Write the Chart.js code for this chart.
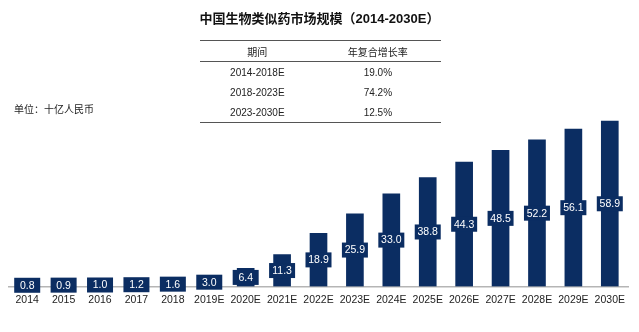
<!DOCTYPE html>
<html>
<head>
<meta charset="utf-8">
<script src="https://cdn.jsdelivr.net/npm/chart.js@4.4.0/dist/chart.umd.min.js"></script>
<style>
  body { margin: 0; background: #fff; font-family: "Liberation Sans", "Noto Sans CJK SC", sans-serif; }
  #wrap { position: relative; width: 639px; height: 332px; }
  #title { position: absolute; left: 0; width: 639px; top: 8px; text-align: center; font-size: 13px; font-weight: bold; color: #111; }
  #unit { position: absolute; left: 14px; top: 101px; font-size: 10px; color: #222; }
  table { position: absolute; left: 200px; top: 40px; width: 241px; border-collapse: collapse; font-size: 10px; color: #222; }
  table th, table td { font-weight: normal; text-align: center; height: 20px; padding: 0; }
  table th { border-top: 1.5px solid #555; border-bottom: 1.5px solid #555; }
  table tr:last-child td { border-bottom: 1.5px solid #555; }
  canvas { position: absolute; left: 0; top: 0; }
</style>
</head>
<body>
<div id="wrap">
  <canvas id="chart" width="639" height="332"></canvas>
  <div id="title">中国生物类似药市场规模（2014-2030E）</div>
  <div id="unit">单位：十亿人民币</div>
  <table id="cagr"></table>
</div>
<script>
// data
const years = ["2014", "2015", "2016", "2017", "2018", "2019E", "2020E", "2021E", "2022E",
    "2023E", "2024E", "2025E", "2026E", "2027E", "2028E", "2029E", "2030E"];
const marketSize = [0.8, 0.9, 1.0, 1.2, 1.6, 3.0, 6.4, 11.3, 18.9, 25.9, 33.0, 38.8, 44.3, 48.5, 52.2, 56.1, 58.9];
const periods = ["2014-2018E", "2018-2023E", "2023-2030E"];
const cagr = ["19.0%", "74.2%", "12.5%"];

const navy = "#0b2d62";

// CAGR table
let html = "<tr><th>期间</th><th>年复合增长率</th></tr>";
for (let i = 0; i < periods.length; i++) {
    html += "<tr><td>" + periods[i] + "</td><td>" + cagr[i] + "</td></tr>";
}
document.getElementById("cagr").innerHTML = html;

// value boxes in the middle of each bar
const boxLabels = {
    id: "boxLabels",
    afterDatasetsDraw(chart) {
        const ctx = chart.ctx;
        const meta = chart.getDatasetMeta(0);
        ctx.save();
        ctx.font = "10.5px 'Liberation Sans', sans-serif";
        ctx.textAlign = "center";
        ctx.textBaseline = "middle";
        meta.data.forEach((bar, i) => {
            const txt = marketSize[i].toFixed(1);
            const cy = (bar.y + bar.base) / 2;
            const w = 26, h = 15;
            ctx.fillStyle = navy;
            ctx.fillRect(bar.x - w / 2, cy - h / 2, w, h);
            ctx.fillStyle = "#ffffff";
            ctx.fillText(txt, bar.x, cy + 0.5);
        });
        ctx.restore();
    }
};

new Chart(document.getElementById("chart"), {
    type: "bar",
    data: {
        labels: years,
        datasets: [{
            data: marketSize,
            backgroundColor: navy,
            barThickness: 17
        }]
    },
    options: {
        responsive: false,
        animation: false,
        layout: { padding: { left: 9, right: 11, top: 90, bottom: 19 } },
        plugins: { legend: { display: false }, tooltip: { enabled: false } },
        scales: {
            x: {
                grid: { display: false, drawTicks: false },
                border: { display: true, color: "#b5b5b5", width: 1.5 },
                ticks: { color: "#222", font: { size: 10.5, family: "'Liberation Sans', sans-serif" }, padding: 7, maxRotation: 0, autoSkip: false }
            },
            y: {
                display: false,
                min: 0,
                max: 70
            }
        }
    },
    plugins: [boxLabels]
});
</script>
</body>
</html>
